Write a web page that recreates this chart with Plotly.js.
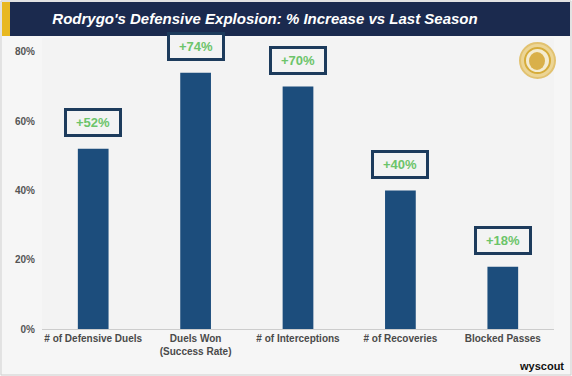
<!DOCTYPE html>
<html>
<head>
<meta charset="utf-8">
<script src="https://cdn.plot.ly/plotly-3.0.1.min.js"></script>
<style>html,body{margin:0;padding:0;background:#fff;}#chart{width:572px;height:376px;}</style>
</head>
<body>
<div id="chart"></div>
<script>
const categories = ["# of Defensive Duels", "Duels Won<br>(Success Rate)", "# of Interceptions", "# of Recoveries", "Blocked Passes"];
const increases = [52, 74, 70, 40, 18];
const labels = ["+52%", "+74%", "+70%", "+40%", "+18%"];
const titleText = "Rodrygo's Defensive Explosion: % Increase vs Last Season";

const L = 42, R = 18, T = 38, B = 47, W = 572, H = 376;
const pw = W - L - R, ph = H - T - B;
const px = x => (x - L) / pw;
const py = y => (H - B - y) / ph;

const sans = "Liberation Sans, Arial, sans-serif";

const annotations = categories.map((c, i) => ({
  x: c, y: increases[i], xref: 'x', yref: 'y', yshift: 26,
  text: labels[i], showarrow: false,
  font: {family: sans, size: 13, color: '#6cc46a', weight: 'bold'},
  bordercolor: '#1d3b5c', borderwidth: 3, borderpad: 3, bgcolor: '#f3f3f3',
  width: 46, height: 17
}));
annotations.push({
  xref: 'paper', yref: 'paper', x: px(566), y: py(366), xanchor: 'right', yanchor: 'middle',
  text: 'wyscout', showarrow: false,
  font: {family: sans, size: 11, color: '#111', weight: 'bold'}
});

const shapes = [
  {type: 'rect', xref: 'paper', yref: 'paper', x0: px(1), x1: px(571), y0: py(375), y1: py(1),
   line: {color: '#cfcfcf', width: 1}, fillcolor: 'rgba(0,0,0,0)', layer: 'below'},
  {type: 'rect', xref: 'paper', yref: 'paper', x0: px(2), x1: px(570), y0: py(36), y1: py(2),
   line: {width: 0}, fillcolor: '#1b2a4e', layer: 'above'},
  {type: 'rect', xref: 'paper', yref: 'paper', x0: px(2), x1: px(10), y0: py(36), y1: py(2),
   line: {width: 0}, fillcolor: '#e8b820', layer: 'above'},
  {type: 'circle', xref: 'paper', yref: 'paper', x0: px(520), x1: px(555), y0: py(78), y1: py(43),
   line: {color: '#e2c270', width: 2}, fillcolor: '#ecd595', layer: 'above'},
  {type: 'circle', xref: 'paper', yref: 'paper', x0: px(525), x1: px(550), y0: py(73), y1: py(48),
   line: {color: '#d6ac3a', width: 2}, fillcolor: '#f4ecd2', layer: 'above'},
  {type: 'circle', xref: 'paper', yref: 'paper', x0: px(529), x1: px(545), y0: py(70), y1: py(52),
   line: {width: 0}, fillcolor: '#d9b04a', layer: 'above'}
];

const data = [{
  type: 'bar', x: categories, y: increases,
  marker: {color: '#1c4d7c', line: {width: 0}},
  hoverinfo: 'skip'
}];

const layout = {
  width: W, height: H,
  margin: {l: L, r: R, t: T, b: B, pad: 0},
  paper_bgcolor: '#f6f6f6', plot_bgcolor: '#f3f3f3',
  bargap: 0.7,
  showlegend: false,
  title: {
    text: '<i>' + titleText + '</i>',
    x: 265 / W, xanchor: 'center', xref: 'container',
    y: 1 - 19 / H, yanchor: 'middle', yref: 'container',
    font: {family: sans, size: 15, color: '#ffffff', weight: 'bold'}
  },
  xaxis: {
    type: 'category', showgrid: false, zeroline: false,
    showline: true, linecolor: '#cccccc', linewidth: 1,
    ticks: '', tickfont: {family: sans, size: 10, color: '#4a4a4a', weight: 'bold'},
    fixedrange: true
  },
  yaxis: {
    range: [0, 84], dtick: 20, tick0: 0, ticksuffix: '%',
    showgrid: false, zeroline: false, showline: false, ticks: '',
    ticklabelstandoff: 6,
    tickfont: {family: sans, size: 10, color: '#555555', weight: 'bold'},
    fixedrange: true
  },
  annotations: annotations,
  shapes: shapes
};

Plotly.newPlot('chart', data, layout, {displayModeBar: false, staticPlot: true});
</script>
</body>
</html>
